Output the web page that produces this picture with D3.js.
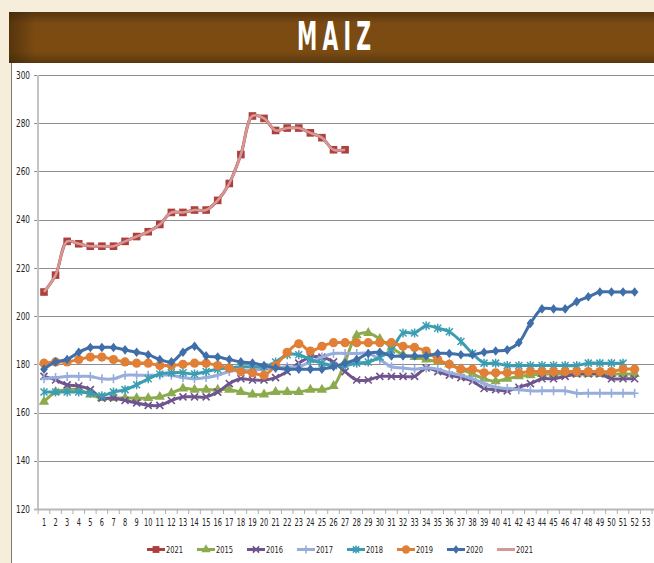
<!DOCTYPE html>
<html><head><meta charset="utf-8">
<script src="https://cdn.jsdelivr.net/npm/d3@7"></script>
<style>
html,body{margin:0;padding:0;background:#f6eddb;}
svg{display:block;}
</style></head>
<body>
<svg id="c" width="654" height="563"></svg>
<script>
const weeks = d3.range(1, 54);
const yTicks = [120,140,160,180,200,220,240,260,280,300];
const legendLabels = ["2021","2015","2016","2017","2018","2019","2020","2021"];
const titleText = "MAIZ";

const s2021 = [210,217,231,230,229,229,229,231,233,235,238,243,243,244,244,248,255,267,283,282,277,278,278,276,274,269,269];
const s2015 = [164.5,168.5,169.5,169.5,167.5,166,166,166,166,166,166.5,168,170,169.5,169.5,169.5,169.5,168.5,167.5,167.5,168.5,168.5,168.5,169.5,169.5,171,181,192,193,190.5,187,184,183,182,181,180,178,176,174,173,174,175,175.5,176,176,176,176,176,176,176,176,176];
const s2016 = [175,173.5,171.5,171,169.5,166,166,165,164,163,163,165,166.5,166.5,166.5,168.5,172,174,173.5,173.5,174.5,177,180.5,183,183,181,177,173.5,173.5,175,175,175,175,178.5,177,175.5,174.5,173,170,169.5,169,170.5,172,174,174,175,176,176,176,174,174,174];
const s2017 = [174,174.5,175,175,175,174,174,175.5,175.5,175.5,175.5,175.5,174.5,174,174.5,175.5,177,177.5,177.5,178,178.5,179,179,181,183,184.5,184.5,184.5,184.5,182,179,178.5,178,178.5,178,176.5,175.5,174,172,170.5,170,169.5,169,169,169,169,168,168,168,168,168,168];
const s2018 = [168.5,168.5,168.5,168.5,168,167,168.5,169.5,171.5,174,176,176.5,176.5,176,177,178,178.5,179,179,179,181,184,184,182,180.5,179.5,179.5,180.5,181,183,186,193,193,196,195,193.5,189.5,184.5,180.5,180.5,179.5,179.5,179.5,179.5,179.5,179.5,179.5,180.5,180.5,180.5,180.5];
const s2019 = [180.5,181,181,182,183,183,182,181,180.5,180.5,179.5,179.5,180,180.5,180.5,179.5,178.5,177,176.5,175.5,179.5,185,188.5,185.5,187.5,189,189,189,189,189,189,187.5,187,185.5,182,180,178,178,176.5,176.5,176.5,176.5,177,177,177,177,177,177,177,177,178,178];
const s2020 = [178,181,182,185,187,187,187,186,185,184,182,181,185,187.5,183.5,183,182,181,180.5,179.5,178.5,178,178,178,178,179,180.5,182,184.5,185,183.5,183.5,183.5,183.5,184.5,184.5,184,184,185,185.5,186,189,197,203,203,203,206,208,210,210,210,210];
const s2021b = s2021.slice();

const series = [
  {name:legendLabels[0], data:s2021,  color:"#ad403d", marker:"square"},
  {name:legendLabels[1], data:s2015,  color:"#8bab4d", marker:"triangle"},
  {name:legendLabels[2], data:s2016,  color:"#6f548d", marker:"x"},
  {name:legendLabels[3], data:s2017,  color:"#97addb", marker:"plus"},
  {name:legendLabels[4], data:s2018,  color:"#3c9db2", marker:"star"},
  {name:legendLabels[5], data:s2019,  color:"#e07f35", marker:"circle"},
  {name:legendLabels[6], data:s2020,  color:"#3f6ea8", marker:"diamond"},
  {name:legendLabels[7], data:s2021b, color:"#d69896", marker:"none"}
];

const svg = d3.select("#c");
const FONT = "'Liberation Sans Narrow','DejaVu Sans Condensed',sans-serif";

// background panels
const defs = svg.append("defs");
const g1 = defs.append("linearGradient").attr("id","tb").attr("x1",0).attr("y1",0).attr("x2",0).attr("y2",1);
g1.append("stop").attr("offset","0").attr("stop-color","#553510");
g1.append("stop").attr("offset","0.22").attr("stop-color","#7a4a12");
g1.append("stop").attr("offset","0.78").attr("stop-color","#7b4b12");
g1.append("stop").attr("offset","1").attr("stop-color","#58380f");
const g2 = defs.append("linearGradient").attr("id","tbx").attr("x1",0).attr("y1",0).attr("x2",1).attr("y2",0);
g2.append("stop").attr("offset","0").attr("stop-color","#3d2608").attr("stop-opacity",0.6);
g2.append("stop").attr("offset","0.04").attr("stop-color","#3d2608").attr("stop-opacity",0);
g2.append("stop").attr("offset","1").attr("stop-color","#3d2608").attr("stop-opacity",0);

svg.append("rect").attr("x",0).attr("y",0).attr("width",654).attr("height",563).attr("fill","#f6eddb");
svg.append("rect").attr("x",11).attr("y",63).attr("width",643).attr("height",500).attr("fill","#ffffff");
svg.append("line").attr("x1",11.5).attr("x2",11.5).attr("y1",63).attr("y2",563).attr("stroke","#7a7a7a").attr("stroke-width",1);
svg.append("rect").attr("x",9).attr("y",12).attr("width",645).attr("height",51).attr("fill","url(#tb)");
svg.append("rect").attr("x",9).attr("y",12).attr("width",645).attr("height",51).attr("fill","url(#tbx)");

// title: spaced letters, horizontally condensed to the reference width
const tg = svg.append("g");
const tt = tg.append("text").attr("x",0).attr("y",0).attr("text-anchor","start")
  .attr("font-family",FONT).attr("font-weight","bold").attr("font-size",39)
  .attr("letter-spacing",9).attr("fill","#ffffff").text(titleText);
const bb = tt.node().getBBox();
const wNat = bb.width - 9;
const sx = 74 / wNat;
tg.attr("transform",`translate(297,50) scale(${sx},1)`);

// scales
const x = d3.scaleBand().domain(weeks).range([38.2, 652]).padding(0);
const y = d3.scaleLinear().domain([120, 300]).range([509, 75]);
const cx = d => x(d) + x.bandwidth()/2;

// gridlines
svg.append("g").selectAll("line").data(yTicks.filter(v => v > 120)).join("line")
  .attr("x1",34).attr("x2",654).attr("y1",d=>Math.round(y(d))+0.5).attr("y2",d=>Math.round(y(d))+0.5)
  .attr("stroke","#8e8e8e").attr("stroke-width",1);

// y axis
const yAxis = d3.axisLeft(y).tickValues(yTicks).tickSize(0).tickPadding(8);
const ya = svg.append("g").attr("transform","translate(38,0)").call(yAxis);
ya.select(".domain").remove();
ya.selectAll("text").attr("font-family",FONT).attr("font-size",10).attr("fill","#222")
  .attr("textLength",14).attr("lengthAdjust","spacingAndGlyphs");
svg.append("line").attr("x1",38).attr("x2",38).attr("y1",75).attr("y2",509).attr("stroke","#c4c4c4").attr("stroke-width",2);

// x axis
const xAxis = d3.axisBottom(x).tickSize(0).tickPadding(10);
const xa = svg.append("g").attr("transform","translate(0,509)").call(xAxis);
xa.select(".domain").remove();
xa.selectAll("text").attr("font-family",FONT).attr("font-size",10).attr("fill","#222")
  .attr("textLength",d=>String(d).length*4.2).attr("lengthAdjust","spacingAndGlyphs");
svg.append("line").attr("x1",34).attr("x2",654).attr("y1",509.5).attr("y2",509.5).attr("stroke","#b8b8b8").attr("stroke-width",2);
svg.append("g").selectAll("line").data(weeks.concat([54])).join("line")
  .attr("x1",d=> d<=53 ? x(d) : x(53)+x.bandwidth()).attr("x2",d=> d<=53 ? x(d) : x(53)+x.bandwidth())
  .attr("y1",509).attr("y2",514).attr("stroke","#b0b0b0").attr("stroke-width",1);

// marker drawing
function drawMarker(g, type, color, size) {
  const s = size || 1;
  if (type === "square") {
    g.append("rect").attr("x",-3.8*s).attr("y",-3.8*s).attr("width",7.6*s).attr("height",7.6*s).attr("fill",color);
  } else if (type === "triangle") {
    g.append("path").attr("d", d3.symbol(d3.symbolTriangle, 46*s*s)()).attr("fill",color);
  } else if (type === "diamond") {
    g.append("path").attr("d", `M0,${-4.8*s}L${3.8*s},0L0,${4.8*s}L${-3.8*s},0Z`).attr("fill",color);
  } else if (type === "circle") {
    g.append("circle").attr("r",4.6*s).attr("fill",color);
  } else if (type === "x") {
    g.append("path").attr("d",`M${-3.5*s},${-3.5*s}L${3.5*s},${3.5*s}M${-3.5*s},${3.5*s}L${3.5*s},${-3.5*s}`)
      .attr("stroke",color).attr("stroke-width",1.6);
  } else if (type === "plus") {
    g.append("path").attr("d",`M0,${-4.5*s}L0,${4.5*s}M${-4*s},0L${4*s},0`)
      .attr("stroke",color).attr("stroke-width",1.6);
  } else if (type === "star") {
    g.append("path").attr("d",`M${-3.5*s},${-3.5*s}L${3.5*s},${3.5*s}M${-3.5*s},${3.5*s}L${3.5*s},${-3.5*s}M0,${-4.5*s}L0,${4.5*s}`)
      .attr("stroke",color).attr("stroke-width",1.5);
  }
}

const line = d3.line().x((d,i)=>cx(weeks[i])).y(d=>y(d)).curve(d3.curveCatmullRom.alpha(0.5));

const plot = svg.append("g");
series.forEach((s, idx) => {
  const g = plot.append("g");
  g.append("path").attr("d", line(s.data)).attr("fill","none")
    .attr("stroke", s.color).attr("stroke-width", idx===7 ? 2.6 : 3).attr("stroke-linejoin","round");
  if (s.marker !== "none") {
    s.data.forEach((v,i) => {
      const mg = g.append("g").attr("transform",`translate(${cx(weeks[i])},${y(v)})`);
      drawMarker(mg, s.marker, s.color);
    });
  }
});

// legend
const lg = svg.append("g");
series.forEach((s, i) => {
  const lx = 147 + i*50, ly = 549.5;
  const g = lg.append("g");
  g.append("line").attr("x1",lx).attr("x2",lx+18).attr("y1",ly).attr("y2",ly).attr("stroke",s.color).attr("stroke-width",3);
  if (s.marker !== "none") {
    const mg = g.append("g").attr("transform",`translate(${lx+9},${ly})`);
    drawMarker(mg, s.marker, s.color, 0.9);
  }
  g.append("text").attr("x",lx+19).attr("y",ly+3.3).attr("font-family",FONT).attr("font-size",9.5)
    .attr("fill","#222").attr("textLength",17).attr("lengthAdjust","spacingAndGlyphs").text(s.name);
});
</script>
</body></html>
